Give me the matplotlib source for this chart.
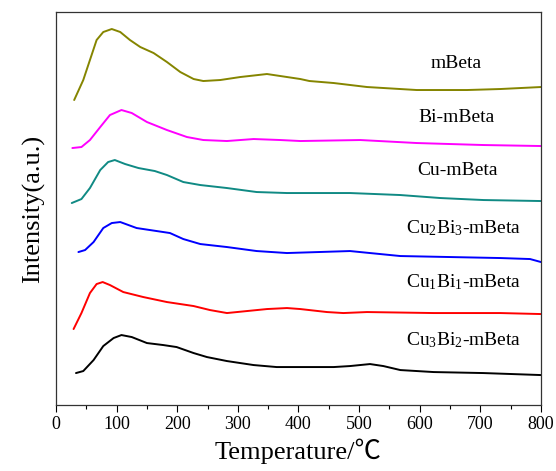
import matplotlib
matplotlib.use("Agg")
import matplotlib.pyplot as plt
from matplotlib.ticker import MultipleLocator

plt.rcParams['font.family'] = ['Liberation Serif', 'Noto Sans CJK SC', 'DejaVu Serif']
plt.rcParams['mathtext.default'] = 'regular'

# NH3-TPD profiles (temperature in °C, stacked intensity in arbitrary units)
t_mbeta = [30, 45, 56, 67, 78, 92, 106, 122, 139, 161, 183, 205, 227, 243, 271, 304,
           348, 381, 403, 418, 458, 513, 595, 678, 733, 800]
i_mbeta = [305, 325, 345, 365, 373, 376, 373, 365, 358, 352, 343, 333, 326, 324, 325, 328,
           331, 328, 326, 324, 322, 318, 315, 315, 316, 318]

t_bi = [27, 42, 56, 73, 89, 108, 125, 150, 183, 216, 243, 282, 326, 370, 403, 502,
        595, 705, 800]
i_bi = [257, 258, 265, 278, 290, 295, 292, 283, 275, 268, 265, 264, 266, 265, 264, 265,
        262, 260, 259]

t_cu = [26, 42, 56, 73, 86, 97, 114, 136, 163, 183, 210, 238, 282, 331, 381, 485,
        568, 634, 705, 800]
i_cu = [202, 206, 217, 235, 243, 245, 241, 237, 234, 230, 223, 220, 217, 213, 212, 212,
        210, 207, 205, 204]

t_cu2bi3 = [37, 48, 62, 78, 92, 106, 133, 166, 188, 210, 238, 282, 331, 381, 485,
            518, 568, 650, 733, 782, 800]
i_cu2bi3 = [153, 155, 163, 177, 182, 183, 177, 174, 172, 166, 161, 158, 154, 152, 154,
            152, 149, 148, 147, 146, 143]

t_cu1bi1 = [29, 42, 56, 67, 77, 89, 111, 144, 183, 227, 254, 282, 315, 348, 381, 403,
            447, 474, 513, 623, 733, 800]
i_cu1bi1 = [76, 92, 112, 121, 123, 120, 113, 108, 103, 99, 95, 92, 94, 96, 97, 96,
            93, 92, 93, 92, 92, 91]

t_cu3bi2 = [33, 45, 62, 78, 95, 108, 125, 150, 177, 199, 227, 249, 282, 326, 364, 403,
            458, 485, 518, 540, 568, 623, 705, 800]
i_cu3bi2 = [32, 34, 45, 59, 67, 70, 68, 62, 60, 58, 52, 48, 44, 40, 38, 38,
            38, 39, 41, 39, 35, 33, 32, 30]

labels = ['mBeta', 'Bi-mBeta', 'Cu-mBeta',
          'Cu$_2$Bi$_3$-mBeta', 'Cu$_1$Bi$_1$-mBeta', 'Cu$_3$Bi$_2$-mBeta']
colors = ['#858500', '#ff00ff', '#108a84', '#0000ff', '#ff0000', '#000000']
label_x = [660, 660, 663, 673, 673, 673]
label_y = [342, 288, 235, 177, 123, 65]

series = [(t_mbeta, i_mbeta), (t_bi, i_bi), (t_cu, i_cu),
          (t_cu2bi3, i_cu2bi3), (t_cu1bi1, i_cu1bi1), (t_cu3bi2, i_cu3bi2)]

fig = plt.figure(figsize=(5.56, 4.71), dpi=100)
ax = fig.add_axes([0.1007, 0.140, 0.8723, 0.8345])

for (t, i), c in zip(series, colors):
    ax.plot(t, i, color=c, lw=1.4, solid_joinstyle='round', solid_capstyle='round')

for lab, x, y in zip(labels, label_x, label_y):
    ax.text(x, y, lab, ha='center', va='center', fontsize=14)

ax.set_xlim(0, 800)
ax.set_ylim(0, 393)
ax.xaxis.set_major_locator(MultipleLocator(100))
ax.xaxis.set_minor_locator(MultipleLocator(50))
ax.tick_params(axis='x', which='major', direction='out', length=5, width=0.8,
               labelsize=13, pad=3)
ax.tick_params(axis='x', which='minor', direction='out', length=3, width=0.8)
ax.set_yticks([])
for s in ax.spines.values():
    s.set_linewidth(0.9)
    s.set_color('#333333')

ax.set_xlabel('Temperature/℃', fontsize=19, labelpad=4)
ax.set_ylabel('Intensity(a.u.)', fontsize=19, labelpad=8)

fig.savefig('out.png', dpi=100)
